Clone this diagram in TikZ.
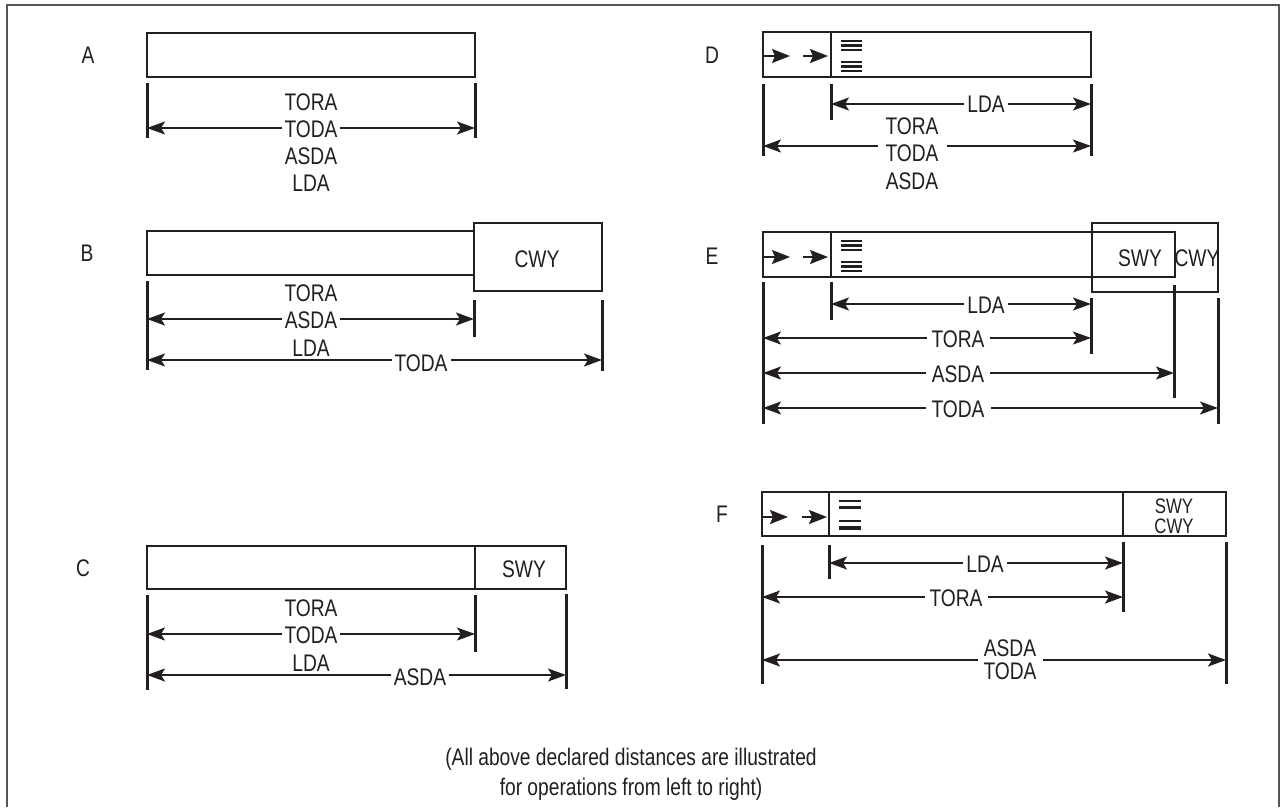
\documentclass[tikz,border=0pt]{standalone}
\usepackage{fontspec}
\setmainfont[FakeStretch=0.8]{Liberation Sans}
\usetikzlibrary{arrows.meta}
\definecolor{ink}{HTML}{231F20}
\definecolor{framec}{HTML}{555555}
\newcommand\txtfont{\fontsize{24}{27}\selectfont}
\newcommand\smallerfont{\fontsize{21}{23}\selectfont}
\tikzset{
  rwybox/.style={draw=ink, line width=2.5pt},
  tickln/.style={draw=ink, line width=3pt},
  dimline/.style={draw=ink, line width=2pt, {Stealth[length=18pt,width=13pt,inset=4pt]}-{Stealth[length=18pt,width=13pt,inset=4pt]}},
  rwarrow/.style={draw=ink, line width=2pt, -{Stealth[length=18pt,width=14pt,inset=3pt]}},
  thr/.style={draw=ink, line width=2.2pt},
  lbl/.style={font=\txtfont, text=ink, inner sep=0pt},
  onln/.style={lbl, fill=white, inner xsep=3pt, inner ysep=1pt},
  panel/.style={font=\txtfont, text=ink, inner sep=0pt},
}
\begin{document}
\begin{tikzpicture}[x=1pt,y=-1pt]
\useasboundingbox (0,0) rectangle (1281,807);
\fill[white] (0,0) rectangle (1281,807);
\draw[framec, line width=2pt] (7,807) -- (7,5) -- (1279,5) -- (1279,807);

% ---------------- A ----------------
\node[panel] (lA) at (88,55) {A};
\draw[rwybox] (147,33) rectangle (475,77);
\coordinate (a1t) at (147,83); \coordinate (a1b) at (147,138);
\coordinate (a2t) at (475,83); \coordinate (a2b) at (475,138);
\draw[tickln] (a1t) -- (a1b); \draw[tickln] (a2t) -- (a2b);
\draw[dimline] (147,128) -- (475,128);
\node[lbl] (aTORA) at (311,102.5) {TORA};
\node[onln] (aTODA) at (311,129) {TODA};
\node[lbl] (aASDA) at (311,156.5) {ASDA};
\node[lbl] (aLDA) at (311,183) {LDA};

% ---------------- B ----------------
\node[panel] (lB) at (87,253) {B};
\draw[rwybox] (147,231) rectangle (474,275);
\draw[rwybox] (474,223) rectangle (602,291);
\node[lbl] (bCWY) at (537,259) {CWY};
\draw[tickln] (147,281) -- (147,370);
\draw[tickln] (474,300) -- (474,337);
\draw[tickln] (602,300) -- (602,371);
\draw[dimline] (147,319) -- (474,319);
\draw[dimline] (147,360) -- (602,360);
\node[lbl] (bTORA) at (311,293) {TORA};
\node[onln] (bASDA) at (311,320) {ASDA};
\node[lbl] (bLDA) at (311,348) {LDA};
\node[onln] (bTODA) at (421,363) {TODA};

% ---------------- C ----------------
\node[panel] (lC) at (83,568) {C};
\draw[rwybox] (147,546) rectangle (566,589);
\draw[rwybox] (475,546) -- (475,589);
\node[lbl] (cSWY) at (524,569) {SWY};
\draw[tickln] (147,595) -- (147,690);
\draw[tickln] (475,595) -- (475,652);
\draw[tickln] (566,594) -- (566,689);
\draw[dimline] (147,634) -- (475,634);
\draw[dimline] (147,675) -- (566,675);
\node[lbl] (cTORA) at (311,608) {TORA};
\node[onln] (cTODA) at (311,635) {TODA};
\node[lbl] (cLDA) at (311,663) {LDA};
\node[onln] (cASDA) at (420,677) {ASDA};

% ---------------- D ----------------
\node[panel] (lD) at (712,55) {D};
\draw[rwybox] (763,32) rectangle (1091,77);
\draw[rwybox] (831,32) -- (831,77);
\foreach \yy in {41,45.5,50,62,66.5,71} \draw[thr] (841,\yy) -- (862,\yy);
\draw[rwarrow] (764,56) -- (790,56);
\draw[rwarrow] (803,56) -- (828,56);
\draw[tickln] (763,84) -- (763,156);
\draw[tickln] (831,84) -- (831,120);
\draw[tickln] (1091,84) -- (1091,156);
\draw[dimline] (831,104) -- (1091,104);
\draw[dimline] (763,146) -- (1091,146);
\node[onln] (dLDA) at (986,104) {LDA};
\node[lbl] (dTORA) at (912,126) {TORA};
\node[onln, inner xsep=8pt] (dTODA) at (912,153) {TODA};
\node[lbl] (dASDA) at (912,181) {ASDA};

% ---------------- E ----------------
\node[panel] (lE) at (712,256) {E};
\draw[rwybox] (763,232) rectangle (1175,277);
\draw[rwybox] (831,232) -- (831,277);
\draw[rwybox] (1092,223) rectangle (1218,292);
\node[lbl] (eSWY) at (1140,258) {SWY};
\node[lbl] (eCWY) at (1197,258) {CWY};
\foreach \yy in {241,245.5,250,262,266.5,271} \draw[thr] (841,\yy) -- (862,\yy);
\draw[rwarrow] (764,257) -- (790,257);
\draw[rwarrow] (803,257) -- (828,257);
\draw[tickln] (763,282) -- (763,424);
\draw[tickln] (831,282) -- (831,320);
\draw[tickln] (1091,298) -- (1091,354);
\draw[tickln] (1174,285) -- (1174,398);
\draw[tickln] (1218,298) -- (1218,424);
\draw[dimline] (831,304) -- (1091,304);
\draw[dimline] (763,338) -- (1091,338);
\draw[dimline] (763,373) -- (1174,373);
\draw[dimline] (763,408) -- (1218,408);
\node[onln] (eLDA) at (986,305) {LDA};
\node[onln, inner xsep=5pt] (eTORA) at (958,339) {TORA};
\node[onln, inner xsep=6pt] (eASDA) at (958,374) {ASDA};
\node[onln, inner xsep=6pt] (eTODA) at (958,409) {TODA};

% ---------------- F ----------------
\node[panel] (lF) at (722,514) {F};
\draw[rwybox] (762,492) rectangle (1226,536);
\draw[rwybox] (829,492) -- (829,536);
\draw[rwybox] (1123,492) -- (1123,536);
\node[lbl, font=\smallerfont] (fSWY) at (1174,506.5) {SWY};
\node[lbl, font=\smallerfont] (fCWY) at (1174,526) {CWY};
\draw[ink, line width=1.6pt] (839,500.7) -- (861,500.7);
\draw[ink, line width=3pt] (839,507.3) -- (861,507.3);
\draw[ink, line width=1.6pt] (839,520.7) -- (861,520.7);
\draw[ink, line width=3.4pt] (839,527.8) -- (861,527.8);
\draw[rwarrow] (763,517) -- (788,517);
\draw[rwarrow] (802,517) -- (827,517);
\draw[tickln] (762,545) -- (762,684);
\draw[tickln] (829,545) -- (829,579);
\draw[tickln] (1123,542) -- (1123,612);
\draw[tickln] (1226,542) -- (1226,684);
\draw[dimline] (829,563) -- (1123,563);
\draw[dimline] (762,597) -- (1123,597);
\draw[dimline] (762,660) -- (1226,660);
\node[onln] (fLDA) at (985,564) {LDA};
\node[onln, inner xsep=5pt] (fTORA) at (956,598) {TORA};
\node[onln, inner xsep=6pt, align=center, font=\fontsize{24}{23}\selectfont] (fAT) at (1010,659.5) {ASDA\\TODA};

% ---------------- note ----------------
\node[lbl, anchor=base] (note1) at (631,765) {(All above declared distances are illustrated};
\node[lbl, anchor=base] (note2) at (631,795) {for operations from left to right)};
\end{tikzpicture}
\end{document}
